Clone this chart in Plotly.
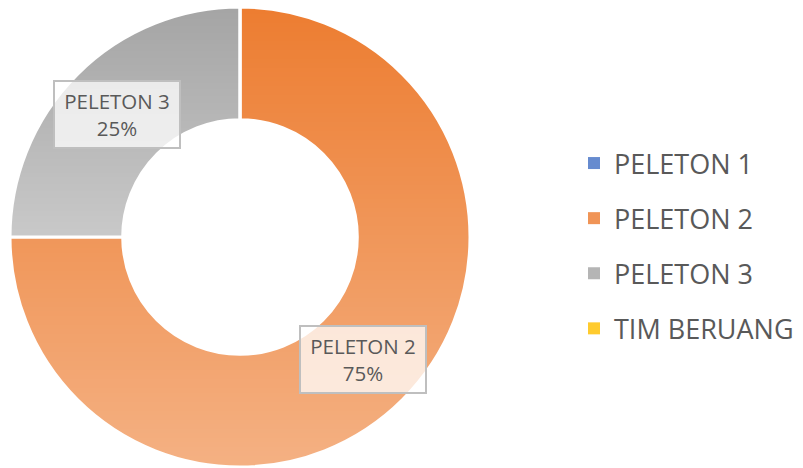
import base64
import math
import struct
import zlib

import numpy as np
import plotly.graph_objects as go

# ---------------- data ----------------
categories = ["PELETON 1", "PELETON 2", "PELETON 3", "TIM BERUANG"]
values = [0, 75, 25, 0]
base_colors = ["#4472C4", "#ED7D31", "#A5A5A5", "#FFC000"]

# ---------------- style ----------------
W, H = 803, 468
HOLE = 0.51
GRAD_MAX = 0.40          # white overlay at bottom of each slice (gradient)
FONT = "Open Sans"
TEXT_COLOR = "#595959"

# pie domain (square, in paper coords)
cx_px, cy_px, R_px = 240, 237, 230
dom_x = [(cx_px - R_px) / W, (cx_px + R_px) / W]
dom_y = [(H - cy_px - R_px) / H, (H - cy_px + R_px) / H]


def blend_white(hex_color, a):
    h = hex_color.lstrip("#")
    r, g, b = (int(h[i:i + 2], 16) for i in (0, 2, 4))
    r, g, b = (round(c + (255 - c) * a) for c in (r, g, b))
    return f"rgb({r},{g},{b})"


# slice angles (clockwise from 12 o'clock, sort=False, direction clockwise)
total = float(sum(values))
starts, ends = [], []
acc = 0.0
for v in values:
    starts.append(acc / total * 2 * math.pi)
    acc += v
    ends.append(acc / total * 2 * math.pi)


# ---------------- gradient overlay image (per-slice vertical gradient) ----------------
def gradient_png(size):
    c = size / 2.0
    yy, xx = np.mgrid[0:size, 0:size].astype(float) + 0.5
    dx = xx - c
    dy = yy - c
    ang = np.mod(np.arctan2(dx, -dy), 2 * math.pi)
    alpha = np.zeros((size, size))
    for s, e, v in zip(starts, ends, values):
        if v <= 0:
            continue
        t = np.linspace(s, e, 721)
        ys = np.concatenate([-c * np.cos(t), -c * HOLE * np.cos(t)])
        ymin, ymax = ys.min(), ys.max()
        m = (ang >= s) & (ang < e)
        frac = np.clip((dy - ymin) / max(ymax - ymin, 1e-9), 0, 1)
        alpha[m] = GRAD_MAX * frac[m]
    rgba = np.zeros((size, size, 4), dtype=np.uint8)
    rgba[..., :3] = 255
    rgba[..., 3] = np.round(alpha * 255).astype(np.uint8)
    raw = b"".join(b"\x00" + rgba[i].tobytes() for i in range(size))

    def chunk(tag, data):
        return (struct.pack(">I", len(data)) + tag + data
                + struct.pack(">I", zlib.crc32(tag + data) & 0xFFFFFFFF))

    png = (b"\x89PNG\r\n\x1a\n"
           + chunk(b"IHDR", struct.pack(">IIBBBBB", size, size, 8, 6, 0, 0, 0))
           + chunk(b"IDAT", zlib.compress(raw, 9))
           + chunk(b"IEND", b""))
    return "data:image/png;base64," + base64.b64encode(png).decode()


fig = go.Figure()

fig.add_trace(go.Pie(
    labels=categories,
    values=values,
    hole=HOLE,
    sort=False,
    direction="clockwise",
    rotation=0,
    marker=dict(colors=base_colors, line=dict(color="white", width=3)),
    textinfo="none",
    showlegend=False,
    domain=dict(x=dom_x, y=dom_y),
    hoverinfo="label+percent",
))

# legend entries
for i, (cat, col) in enumerate(zip(categories, base_colors)):
    fig.add_trace(go.Scatter(
        x=[None], y=[None], mode="markers", name=cat,
        legendgroup=f"g{i}",
        marker=dict(symbol="square", size=13, color=blend_white(col, 0.18)),
        hoverinfo="skip",
    ))

fig.add_layout_image(dict(
    source=gradient_png(2 * R_px),
    xref="paper", yref="paper",
    x=dom_x[0], y=dom_y[1],
    sizex=dom_x[1] - dom_x[0], sizey=dom_y[1] - dom_y[0],
    xanchor="left", yanchor="top",
    sizing="stretch", layer="above",
))

# data labels (category + percent) at ring middle of each slice
r_mid = (1 + HOLE) / 2
pcx = (dom_x[0] + dom_x[1]) / 2
pcy = (dom_y[0] + dom_y[1]) / 2
rx = (dom_x[1] - dom_x[0]) / 2
ry = (dom_y[1] - dom_y[0]) / 2
for cat, v, s, e in zip(categories, values, starts, ends):
    if v <= 0:
        continue
    mid = (s + e) / 2
    fig.add_annotation(
        x=pcx + r_mid * rx * math.sin(mid),
        y=pcy + r_mid * ry * math.cos(mid),
        xref="paper", yref="paper",
        text=f"{cat}<br>{round(v / total * 100)}%",
        showarrow=False,
        font=dict(family=FONT, size=20.5, color=TEXT_COLOR),
        bgcolor="rgba(255,255,255,0.75)",
        bordercolor="#BFBFBF", borderwidth=2,
        width=124, height=65, borderpad=0,
        xanchor="center", yanchor="middle",
    )

fig.update_layout(
    width=W, height=H, autosize=False,
    margin=dict(l=0, r=0, t=0, b=0),
    paper_bgcolor="white", plot_bgcolor="white",
    xaxis=dict(visible=False), yaxis=dict(visible=False),
    legend=dict(
        x=574 / W, y=(H - 139) / H, xanchor="left", yanchor="top",
        font=dict(family=FONT, size=27, color=TEXT_COLOR),
        tracegroupgap=17, itemsizing="constant",
        bgcolor="rgba(0,0,0,0)",
    ),
    font=dict(family=FONT),
)

fig.write_html(
    "out.html",
    config={"displayModeBar": False},
    post_script="document.body.style.margin='0';",
)
